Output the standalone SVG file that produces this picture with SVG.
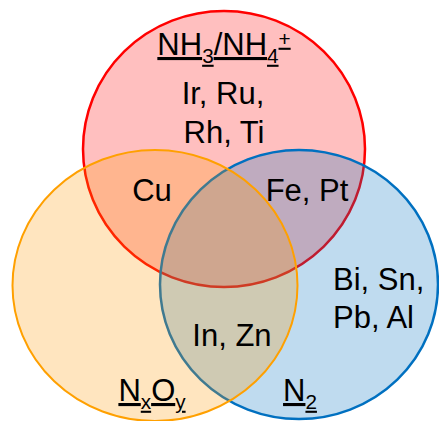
<svg xmlns="http://www.w3.org/2000/svg" width="439" height="421" viewBox="0 0 439 421">
  <style>
    .set { stroke-width: 2.5; }
    .lbl { font-family: "Liberation Sans", Arial, sans-serif; font-size: 31px; fill: #000; }
    .mid { text-anchor: middle; }
    .title { text-decoration: underline; }
  </style>
  <rect width="439" height="421" fill="#fff"/>
  <g id="set-nh3">
    <ellipse class="set" cx="224" cy="149" rx="141" ry="138" fill="#FF0000" fill-opacity="0.25" stroke="#FF0000"/>
  </g>
  <g id="set-n2">
    <ellipse class="set" cx="299" cy="284.5" rx="139" ry="134.5" fill="#0070C0" fill-opacity="0.25" stroke="#0070C0"/>
  </g>
  <g id="set-nxoy">
    <ellipse class="set" cx="155" cy="285.5" rx="142.5" ry="135.5" fill="#FF9900" fill-opacity="0.25" stroke="#FFA000" style="stroke-width:2"/>
  </g>
  <g id="connectors"/>
  <g id="title-nh3">
    <text class="lbl mid title" x="224" y="55">NH<tspan font-size="20.7" dy="7.75">3</tspan><tspan dy="-7.75">/NH</tspan><tspan font-size="20.7" dy="7.75">4</tspan><tspan font-size="20.7" dy="-17">+</tspan></text>
  </g>
  <g id="title-n2">
    <text class="lbl mid title" x="300" y="401">N<tspan font-size="20.7" dy="7.75">2</tspan></text>
  </g>
  <g id="title-nxoy">
    <text class="lbl mid title" x="152" y="401">N<tspan font-size="20.7" dy="7.75">x</tspan><tspan dy="-7.75">O</tspan><tspan font-size="20.7" dy="7.75">y</tspan></text>
  </g>
  <g id="region-nh3">
    <text class="lbl mid" x="223" y="104">Ir, Ru,</text>
    <text class="lbl mid" x="224" y="143">Rh, Ti</text>
  </g>
  <g id="region-nh3-nxoy">
    <text class="lbl mid" x="152" y="201">Cu</text>
  </g>
  <g id="region-nh3-n2">
    <text class="lbl mid" x="307" y="201">Fe, Pt</text>
  </g>
  <g id="region-n2">
    <text class="lbl" x="333" y="290">Bi, Sn,</text>
    <text class="lbl" x="333" y="328">Pb, Al</text>
  </g>
  <g id="region-nxoy-n2">
    <text class="lbl mid" x="232" y="346">In, Zn</text>
  </g>
</svg>
